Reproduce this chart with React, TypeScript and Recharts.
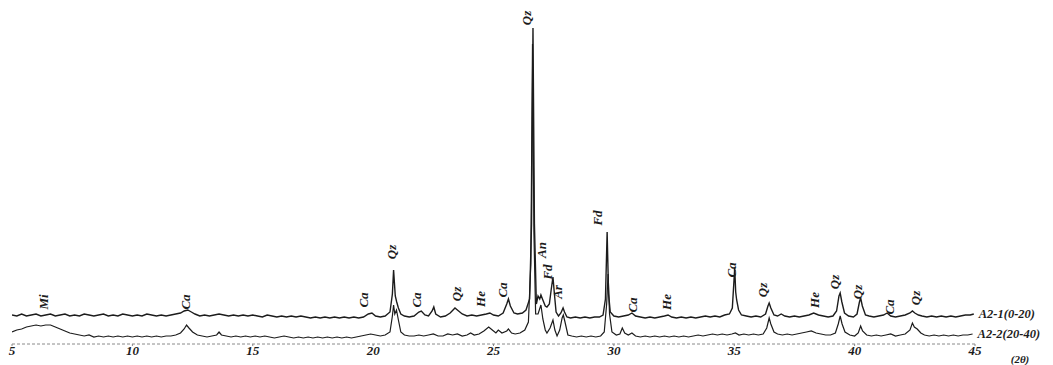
import * as React from 'react';
import { LineChart, Line, XAxis, YAxis, ReferenceDot } from 'recharts';

// 2θ (deg) vs intensity (a.u.). A2-1 is drawn offset above A2-2.
const sampleA21: [number, number][] = [
  [5.0, 29], [5.2, 28], [5.4, 30], [5.6, 28], [5.8, 29], [6.0, 30], [6.2, 28], [6.4, 29], [6.6, 30], [6.8, 28],
  [7.0, 29], [7.2, 30], [7.4, 28], [7.6, 29], [7.8, 28], [8.0, 30], [8.2, 29], [8.4, 28], [8.6, 29], [8.8, 30],
  [9.0, 28], [9.2, 29], [9.4, 28], [9.6, 30], [9.8, 29], [10.0, 28], [10.2, 29], [10.4, 28], [10.6, 30], [10.8, 29],
  [11.0, 28], [11.2, 29], [11.4, 28], [11.6, 29], [11.8, 30], [12.0, 31], [12.15, 33], [12.3, 34], [12.45, 32], [12.6, 30],
  [12.8, 28], [13.0, 29], [13.2, 28], [13.4, 29], [13.6, 30], [13.8, 29], [14.0, 28], [14.2, 29], [14.4, 28], [14.6, 29],
  [14.8, 28], [15.0, 29], [15.2, 28], [15.4, 27], [15.6, 29], [15.8, 28], [16.0, 27], [16.2, 28], [16.4, 27], [16.6, 28],
  [16.8, 27], [17.0, 28], [17.2, 27], [17.4, 26], [17.6, 27], [17.8, 26], [18.0, 27], [18.2, 26], [18.4, 27], [18.6, 26],
  [18.8, 27], [19.0, 26], [19.2, 27], [19.4, 26], [19.6, 27], [19.8, 30], [19.95, 31], [20.1, 28], [20.3, 27], [20.5, 28],
  [20.7, 32], [20.8, 50], [20.85, 74], [20.92, 48], [20.98, 42], [21.05, 36], [21.15, 30], [21.3, 28], [21.5, 27], [21.7, 28],
  [21.9, 32], [22.0, 33], [22.15, 29], [22.3, 28], [22.45, 33], [22.52, 37], [22.6, 30], [22.8, 27], [23.0, 28], [23.2, 31],
  [23.4, 36], [23.5, 34], [23.7, 30], [23.9, 28], [24.1, 29], [24.3, 28], [24.5, 29], [24.7, 30], [24.85, 31], [25.0, 29],
  [25.2, 28], [25.4, 31], [25.55, 40], [25.62, 45], [25.7, 38], [25.85, 31], [26.0, 30], [26.2, 31], [26.35, 34], [26.5, 45],
  [26.58, 120], [26.64, 316], [26.7, 120], [26.78, 40], [26.85, 48], [26.92, 45], [26.97, 49], [27.05, 44], [27.15, 38], [27.22, 37],
  [27.32, 40], [27.4, 55], [27.47, 67], [27.53, 50], [27.6, 32], [27.7, 28], [27.8, 31], [27.89, 36], [27.95, 32], [28.05, 27],
  [28.2, 26], [28.4, 27], [28.6, 26], [28.8, 27], [29.0, 26], [29.2, 27], [29.4, 27], [29.55, 29], [29.65, 45], [29.72, 112],
  [29.78, 50], [29.85, 32], [30.0, 28], [30.2, 27], [30.4, 28], [30.6, 29], [30.75, 31], [30.9, 28], [31.1, 27], [31.3, 26],
  [31.5, 27], [31.7, 26], [31.9, 27], [32.1, 28], [32.25, 29], [32.4, 27], [32.6, 26], [32.8, 27], [33.0, 26], [33.2, 27],
  [33.4, 26], [33.6, 27], [33.8, 28], [34.0, 27], [34.2, 28], [34.4, 27], [34.6, 29], [34.8, 30], [34.92, 36], [34.98, 60],
  [35.02, 76], [35.06, 52], [35.1, 44], [35.18, 34], [35.3, 29], [35.5, 28], [35.7, 27], [35.9, 28], [36.1, 27], [36.3, 30],
  [36.4, 38], [36.45, 41], [36.52, 36], [36.65, 29], [36.8, 28], [36.95, 30], [37.1, 28], [37.3, 27], [37.5, 28], [37.7, 27],
  [37.9, 28], [38.1, 29], [38.3, 31], [38.5, 29], [38.7, 28], [38.9, 27], [39.1, 28], [39.25, 33], [39.35, 48], [39.4, 51],
  [39.47, 42], [39.58, 31], [39.75, 28], [39.95, 27], [40.1, 30], [40.2, 42], [40.25, 46], [40.32, 38], [40.45, 29], [40.6, 28],
  [40.8, 27], [41.0, 28], [41.2, 29], [41.35, 31], [41.5, 28], [41.7, 27], [41.9, 28], [42.1, 29], [42.3, 31], [42.4, 33],
  [42.5, 31], [42.65, 29], [42.8, 28], [43.0, 27], [43.2, 28], [43.4, 27], [43.6, 28], [43.8, 27], [44.0, 28], [44.2, 27],
  [44.4, 28], [44.6, 29], [44.8, 29], [44.95, 30],
];

const sampleA22: [number, number][] = [
  [5.0, 12], [5.2, 14], [5.4, 15], [5.6, 17], [5.8, 18], [6.0, 19], [6.2, 18], [6.4, 19], [6.6, 19], [6.8, 17],
  [7.0, 15], [7.2, 13], [7.4, 11], [7.6, 10], [7.8, 9], [8.0, 8], [8.2, 9], [8.4, 7], [8.6, 8], [8.8, 7],
  [9.0, 8], [9.2, 7], [9.4, 8], [9.6, 7], [9.8, 8], [10.0, 7], [10.2, 8], [10.4, 7], [10.6, 8], [10.8, 7],
  [11.0, 8], [11.2, 7], [11.4, 8], [11.6, 8], [11.8, 9], [12.0, 11], [12.15, 15], [12.25, 19], [12.35, 16], [12.5, 12],
  [12.7, 9], [12.9, 8], [13.1, 7], [13.3, 8], [13.5, 9], [13.6, 12], [13.7, 9], [13.9, 8], [14.1, 7], [14.3, 8],
  [14.5, 7], [14.7, 8], [14.9, 7], [15.1, 8], [15.3, 7], [15.5, 8], [15.7, 7], [15.9, 6], [16.1, 7], [16.3, 8],
  [16.5, 7], [16.7, 6], [16.9, 7], [17.1, 6], [17.3, 7], [17.5, 6], [17.7, 7], [17.9, 6], [18.1, 7], [18.3, 6],
  [18.5, 7], [18.7, 6], [18.9, 7], [19.1, 6], [19.3, 7], [19.5, 8], [19.7, 9], [19.9, 10], [20.1, 9], [20.3, 8],
  [20.5, 9], [20.7, 12], [20.8, 28], [20.85, 39], [20.9, 30], [20.97, 34], [21.05, 24], [21.15, 12], [21.3, 9], [21.5, 8],
  [21.7, 8], [21.9, 9], [22.1, 8], [22.3, 9], [22.5, 10], [22.7, 8], [22.9, 8], [23.1, 10], [23.3, 9], [23.5, 10],
  [23.7, 8], [23.9, 9], [24.05, 11], [24.2, 9], [24.4, 10], [24.6, 13], [24.8, 17], [24.95, 14], [25.1, 11], [25.2, 14],
  [25.35, 11], [25.55, 13], [25.62, 15], [25.75, 11], [25.9, 10], [26.1, 11], [26.3, 14], [26.45, 22], [26.55, 80], [26.62, 300],
  [26.68, 110], [26.75, 30], [26.85, 30], [26.97, 39], [27.05, 25], [27.15, 14], [27.22, 11], [27.35, 16], [27.47, 24], [27.55, 14],
  [27.64, 8], [27.75, 14], [27.85, 26], [27.9, 29], [27.97, 22], [28.09, 9], [28.25, 8], [28.45, 7], [28.65, 8], [28.85, 7],
  [29.05, 8], [29.25, 7], [29.45, 8], [29.6, 12], [29.7, 40], [29.76, 70], [29.82, 30], [29.92, 12], [30.1, 9], [30.25, 10],
  [30.35, 16], [30.45, 11], [30.6, 9], [30.75, 11], [30.9, 8], [31.1, 7], [31.3, 8], [31.5, 7], [31.7, 8], [31.9, 7],
  [32.1, 8], [32.3, 7], [32.5, 8], [32.7, 7], [32.9, 8], [33.1, 7], [33.3, 8], [33.5, 9], [33.7, 8], [33.9, 9],
  [34.1, 10], [34.3, 9], [34.5, 10], [34.7, 9], [34.9, 10], [35.05, 11], [35.2, 9], [35.4, 10], [35.6, 9], [35.8, 10],
  [36.0, 9], [36.2, 10], [36.35, 16], [36.45, 26], [36.52, 20], [36.65, 12], [36.8, 10], [37.0, 9], [37.2, 10], [37.4, 9],
  [37.6, 10], [37.8, 11], [38.0, 12], [38.2, 13], [38.4, 11], [38.6, 10], [38.8, 9], [39.0, 9], [39.2, 11], [39.32, 20],
  [39.4, 28], [39.48, 20], [39.6, 12], [39.8, 9], [40.0, 8], [40.15, 11], [40.25, 18], [40.33, 13], [40.5, 9], [40.7, 8],
  [40.9, 9], [41.1, 8], [41.3, 9], [41.5, 10], [41.7, 8], [41.9, 9], [42.1, 10], [42.3, 14], [42.4, 21], [42.48, 17],
  [42.6, 15], [42.75, 11], [42.9, 9], [43.1, 8], [43.3, 9], [43.5, 8], [43.7, 9], [43.9, 8], [44.1, 9], [44.3, 8],
  [44.5, 9], [44.7, 9], [44.9, 10],
];

// phase label, 2θ position, height of label centre (a.u.)
const phaseMarks: [string, number, number][] = [
  ['Mi', 6.29, 42], ['Ca', 12.19, 42], ['Ca', 19.58, 44], ['Qz', 20.78, 92], ['Ca', 21.82, 44],
  ['Qz', 23.48, 50], ['He', 24.44, 45], ['Ca', 25.39, 54], ['Qz', 26.39, 326], ['An', 27.01, 94],
  ['Fd', 27.26, 72], ['Ar', 27.64, 52], ['Fd', 29.34, 126], ['Ca', 30.79, 39], ['He', 32.2, 42],
  ['Ca', 34.87, 74], ['Qz', 36.19, 54], ['He', 38.35, 44], ['Qz', 39.18, 62], ['Qz', 40.1, 52],
  ['Ca', 41.43, 37], ['Qz', 42.51, 46],
];

const thetaTicks = [5, 10, 15, 20, 25, 30, 35, 40, 45];
const seriesNames = ['A2-1(0-20)', 'A2-2(20-40)'];

const toRows = (pts: [number, number][]) => pts.map(([t, i]) => ({ t, i }));

const serif = '"Liberation Serif", "DejaVu Serif", serif';
const ink = '#1c1c1c';

export default function App() {
  const top = toRows(sampleA21);
  const bottom = toRows(sampleA22);
  const lastTop = sampleA21[sampleA21.length - 1];
  const lastBottom = sampleA22[sampleA22.length - 1];

  const textStyle = { fontFamily: serif, fontStyle: 'italic', fontWeight: 700, fontSize: 13, fill: ink };

  return (
    <div style={{ position: 'absolute', left: 0, top: 0, background: '#fff' }}>
      <LineChart width={1053} height={365} margin={{ top: 0, right: 78, bottom: 0, left: 12 }}>
        <XAxis
          type="number"
          dataKey="t"
          domain={[5, 45]}
          ticks={thetaTicks}
          allowDataOverflow
          height={21}
          axisLine={{ stroke: '#8a8a8a', strokeDasharray: '3 2' }}
          tickLine={{ stroke: '#8a8a8a' }}
          tickSize={2}
          tickMargin={0}
          tick={{ fontFamily: serif, fontStyle: 'italic', fontWeight: 700, fontSize: 13, fill: ink }}
          label={{
            content: (p: any) => (
              <text
                x={p.viewBox.x + p.viewBox.width + 45}
                y={p.viewBox.y + p.viewBox.height - 2}
                textAnchor="middle"
                style={{ ...textStyle, fontSize: 11 }}
              >
                (2θ)
              </text>
            ),
          }}
        />
        <YAxis hide type="number" domain={[0, 344]} allowDataOverflow />
        <Line
          data={bottom}
          dataKey="i"
          name={seriesNames[1]}
          type="linear"
          dot={false}
          stroke={ink}
          strokeWidth={1.2}
          isAnimationActive={false}
        />
        <Line
          data={top}
          dataKey="i"
          name={seriesNames[0]}
          type="linear"
          dot={false}
          stroke={ink}
          strokeWidth={1.4}
          isAnimationActive={false}
        />
        {phaseMarks.map(([name, t, at], k) => (
          <ReferenceDot
            key={k}
            x={t}
            y={at}
            r={0}
            ifOverflow="visible"
            shape={(p: any) => (
              <text
                x={p.cx}
                y={p.cy}
                transform={`rotate(-90 ${p.cx} ${p.cy})`}
                textAnchor="middle"
                dominantBaseline="central"
                style={textStyle}
              >
                {name}
              </text>
            )}
          />
        ))}
        {[lastTop, lastBottom].map(([t, i], k) => (
          <ReferenceDot
            key={'s' + k}
            x={t}
            y={i}
            r={0}
            ifOverflow="visible"
            shape={(p: any) => (
              <text x={p.cx + 5} y={p.cy} dominantBaseline="central" style={{ ...textStyle, fontSize: 12.5 }}>
                {seriesNames[k]}
              </text>
            )}
          />
        ))}
      </LineChart>
    </div>
  );
}
